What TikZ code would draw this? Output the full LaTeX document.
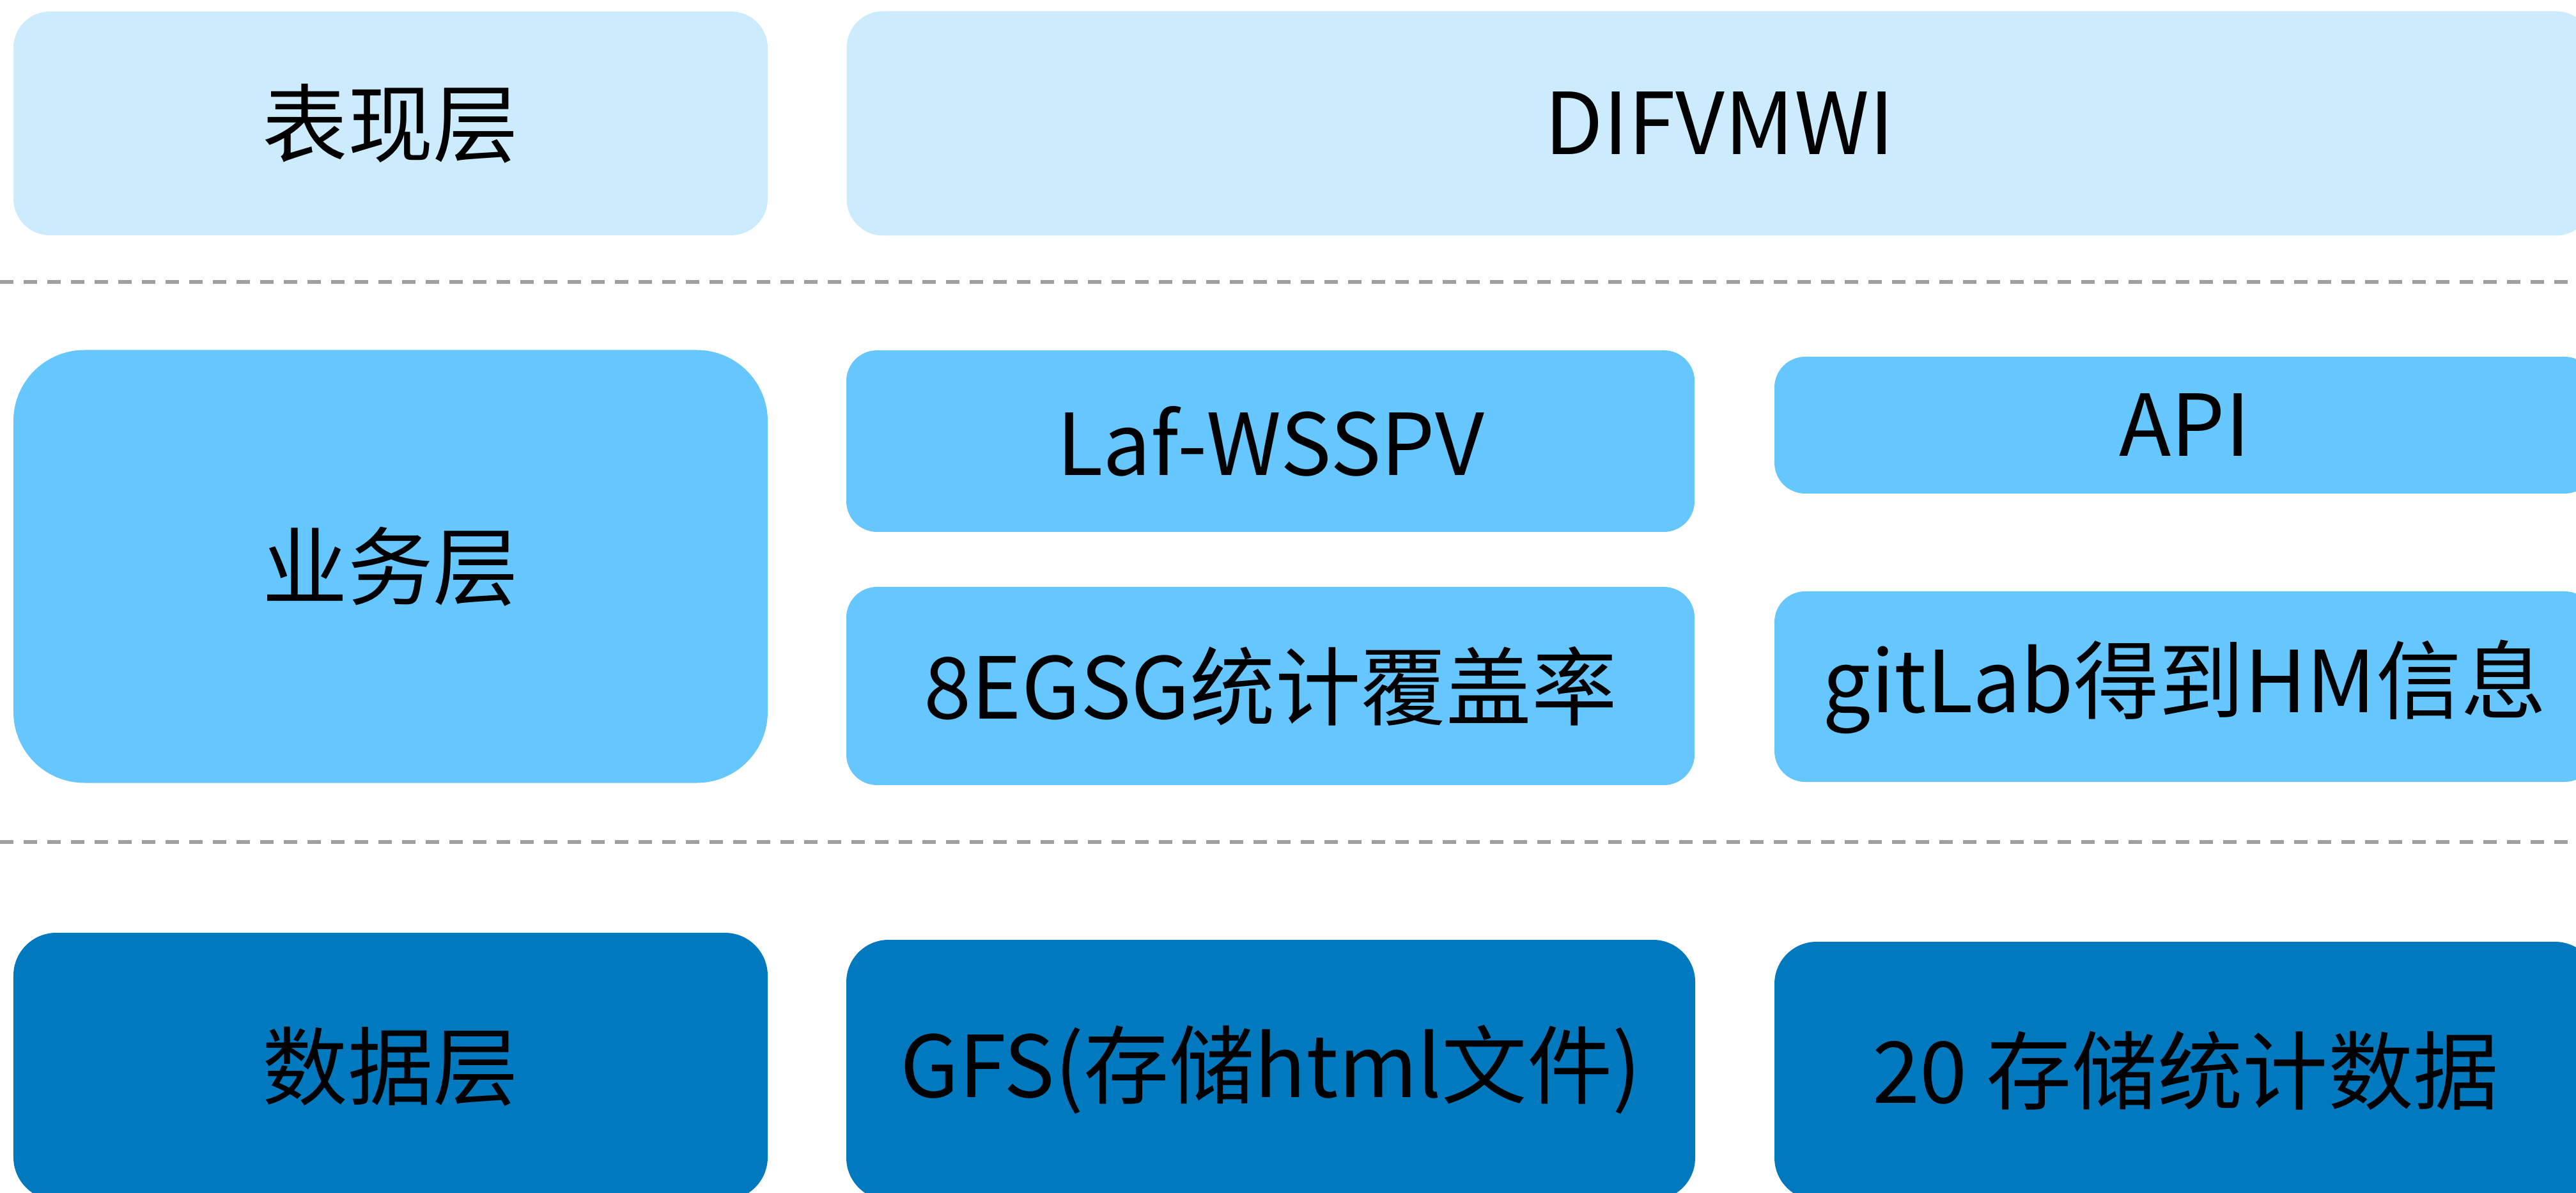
\documentclass[tikz,border=0pt]{standalone}
\usepackage{fontspec}
\setmainfont{Noto Sans CJK SC}

\definecolor{presblue}{HTML}{CCECFE}
\definecolor{bizblue}{HTML}{66C6FE}
\definecolor{datablue}{HTML}{0079BF}
\definecolor{sepgray}{HTML}{A0A0A0}

\tikzset{
    layer/.style={rectangle, inner sep=0pt, font=\fontsize{38}{46}\selectfont},
    presbox/.style={layer, fill=presblue, rounded corners=0.57cm},
    bizbox/.style={layer, fill=bizblue, rounded corners=0.48cm},
    databox/.style={layer, fill=datablue, rounded corners=0.66cm},
    sepline/.style={sepgray, line width=0.06cm, dash pattern=on 0.21cm off 0.16cm}
}

\begin{document}
\begin{tikzpicture}
                \useasboundingbox (0,0) rectangle (40.30,-18.66);

                % 表现层
                \node[presbox, minimum width=11.80cm, minimum height=3.50cm] (pres) at (6.11,-1.93) {表现层};
                \node[presbox, minimum width=27.31cm, minimum height=3.51cm] (ui) at (26.90,-1.93) {DIFVMWI};

                \coordinate (sepa) at (0,-4.41);
                \coordinate (sepb) at (40.30,-4.41);
                \draw[sepline] (sepa) -- (sepb);

                % 业务层
                \node[bizbox, rounded corners=1.11cm, minimum width=11.80cm, minimum height=6.77cm] (biz) at (6.11,-8.86) {业务层};
                \node[bizbox, minimum width=13.27cm, minimum height=2.84cm] (laf) at (19.875,-6.90) {Laf-WSSPV};
                \node[bizbox, minimum width=12.84cm, minimum height=2.14cm] (api) at (34.18,-6.65) {API};
                \node[bizbox, minimum width=13.27cm, minimum height=3.10cm] (cov) at (19.875,-10.73) {8EGSG统计覆盖率};
                \node[bizbox, minimum width=12.84cm, minimum height=2.98cm] (git) at (34.18,-10.74) {gitLab得到HM信息};

                \coordinate (sepc) at (0,-13.17);
                \coordinate (sepd) at (40.30,-13.17);
                \draw[sepline] (sepc) -- (sepd);

                % 数据层
                \node[databox, rounded corners=0.67cm, minimum width=11.80cm, minimum height=4.18cm] (data) at (6.11,-16.68) {数据层};
                \node[databox, minimum width=13.28cm, minimum height=4.07cm] (gfs) at (19.88,-16.735) {GFS(存储html文件)};
                \node[databox, minimum width=12.87cm, minimum height=4.04cm] (store) at (34.195,-16.75) {20 存储统计数据};
\end{tikzpicture}
\end{document}
